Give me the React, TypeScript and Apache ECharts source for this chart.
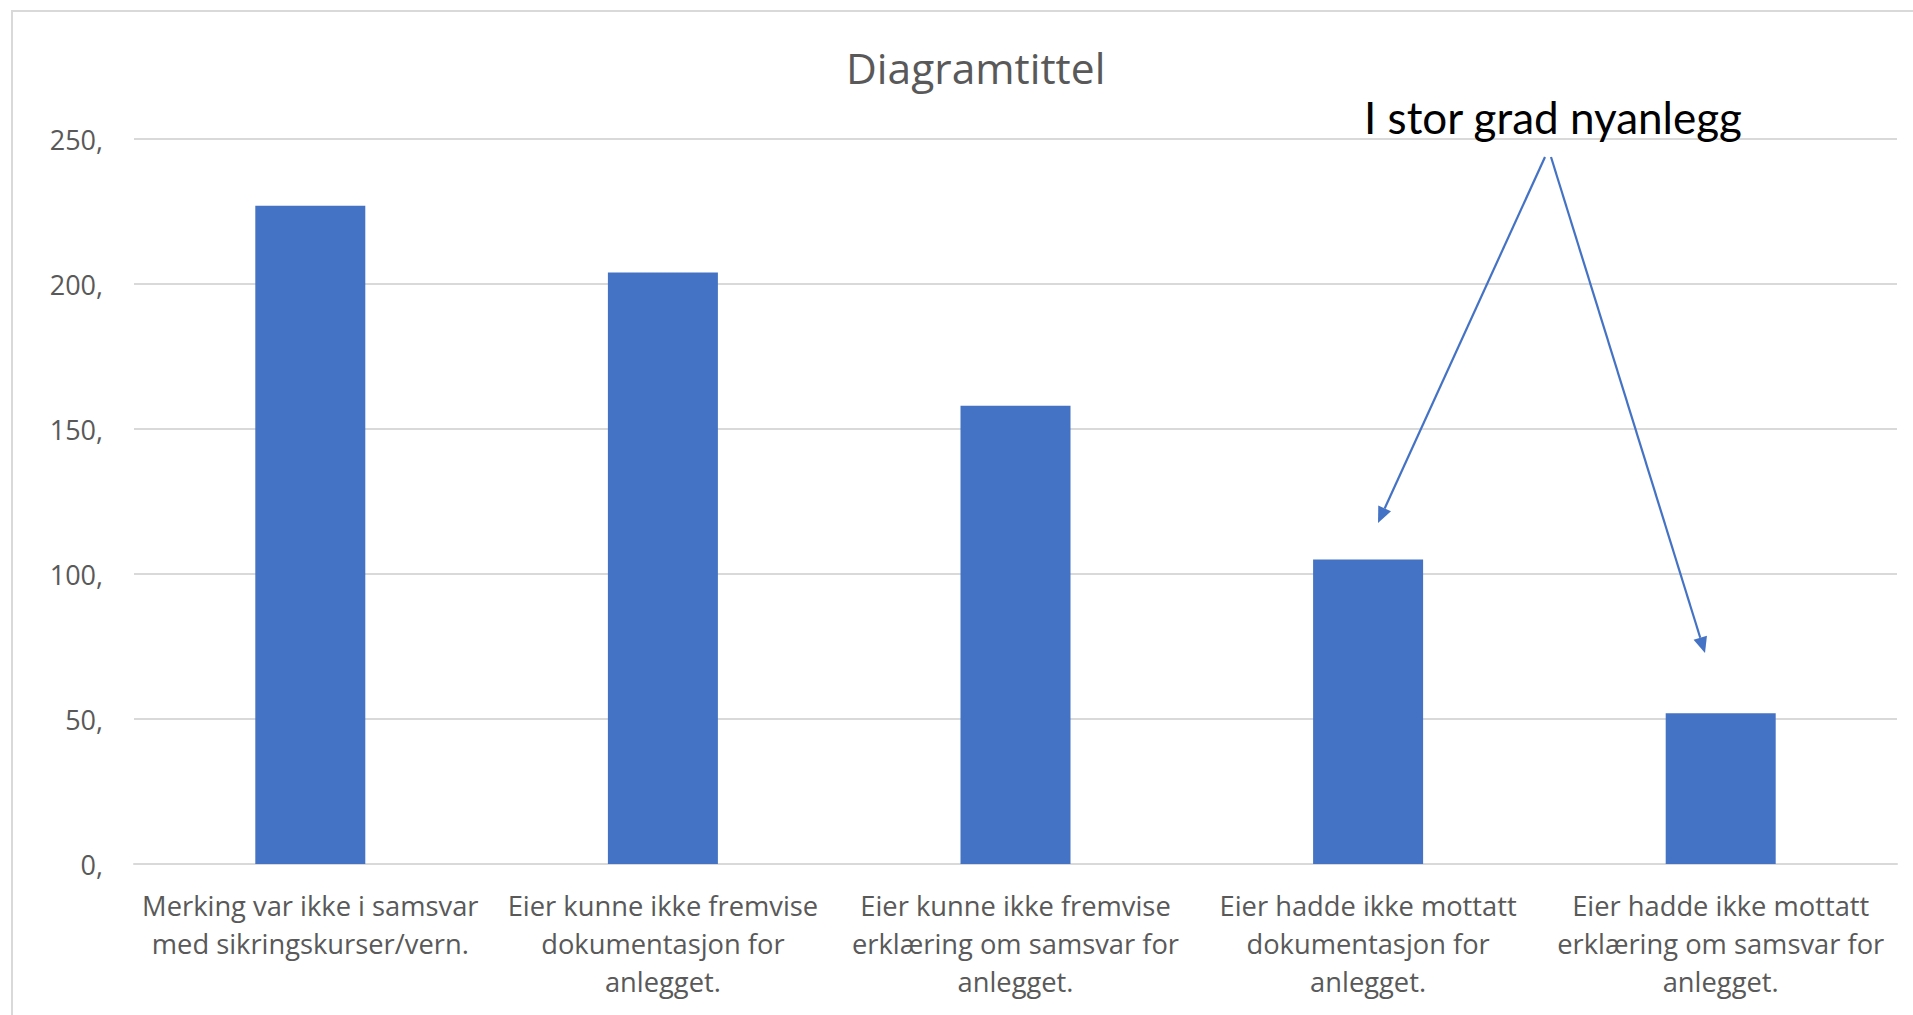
import React, { useEffect, useRef } from "react";
import * as echarts from "echarts";

const categories: string[] = [
  "Merking var ikke i samsvar\nmed sikringskurser/vern.",
  "Eier kunne ikke fremvise\ndokumentasjon for\nanlegget.",
  "Eier kunne ikke fremvise\nerklæring om samsvar for\nanlegget.",
  "Eier hadde ikke mottatt\ndokumentasjon for\nanlegget.",
  "Eier hadde ikke mottatt\nerklæring om samsvar for\nanlegget.",
];
const values: number[] = [227, 204, 158, 105, 52];
const yTicks = { min: 0, max: 250, interval: 50 };
const titleText = "Diagramtittel";
const annotationText = "I stor grad nyanlegg";

const BLUE = "#4472C4";
const GRID = "#d9d9d9";
const TEXT = "#595959";
const FONT = "'Open Sans', 'Noto Sans', sans-serif";

function arrowHead(x1: number, y1: number, x2: number, y2: number, len: number, half: number) {
  const dx = x2 - x1;
  const dy = y2 - y1;
  const d = Math.sqrt(dx * dx + dy * dy);
  const ux = dx / d;
  const uy = dy / d;
  const bx = x2 - ux * len;
  const by = y2 - uy * len;
  return [
    [x2, y2],
    [bx - uy * half, by + ux * half],
    [bx + uy * half, by - ux * half],
  ];
}

export default function App() {
  const ref = useRef<HTMLDivElement>(null);
  useEffect(() => {
    if (!ref.current) return;
    const chart = echarts.init(ref.current, null, { renderer: "svg" });
    const arrows = [
      [1545, 157, 1378, 523],
      [1551, 157, 1705, 653],
    ];
    const graphics: any[] = [
      {
        type: "rect",
        shape: { x: 12, y: 11, width: 1950, height: 1050 },
        style: { fill: "none", stroke: GRID, lineWidth: 2 },
        silent: true,
        z: -10,
      },
      {
        type: "text",
        x: 1364,
        y: 95,
        style: {
          text: annotationText,
          fill: "#000000",
          font: "44px Lato, 'Liberation Sans', sans-serif",
        },
        z: 10,
      },
    ];
    arrows.forEach(([x1, y1, x2, y2]) => {
      const head = arrowHead(x1, y1, x2, y2, 16, 7);
      const bx = (head[1][0] + head[2][0]) / 2;
      const by = (head[1][1] + head[2][1]) / 2;
      graphics.push({
        type: "line",
        shape: { x1, y1, x2: bx, y2: by },
        style: { stroke: BLUE, lineWidth: 2.2 },
        z: 10,
      });
      graphics.push({
        type: "polygon",
        shape: { points: head },
        style: { fill: BLUE },
        z: 10,
      });
    });

    chart.setOption({
      animation: false,
      backgroundColor: "#ffffff",
      title: {
        text: titleText,
        left: 841,
        top: 41,
        textStyle: { fontFamily: FONT, fontSize: 42.5, fontWeight: "normal", color: TEXT },
      },
      grid: { left: 134, right: 16, top: 139, bottom: 151, containLabel: false },
      xAxis: {
        type: "category",
        data: categories,
        axisLine: { show: true, lineStyle: { color: GRID, width: 2 } },
        axisTick: { show: false },
        axisLabel: {
          interval: 0,
          margin: 22,
          fontFamily: FONT,
          fontSize: 27.3,
          lineHeight: 38,
          color: TEXT,
          align: "center",
        },
      },
      yAxis: {
        type: "value",
        min: yTicks.min,
        max: yTicks.max,
        interval: yTicks.interval,
        axisLine: { show: false },
        axisTick: { show: false },
        splitLine: { lineStyle: { color: GRID, width: 2 } },
        axisLabel: {
          margin: 31,
          fontFamily: FONT,
          fontSize: 27,
          color: TEXT,
          formatter: (v: number) => `${v},`,
        },
      },
      series: [
        {
          type: "bar",
          data: values,
          barWidth: 110,
          itemStyle: { color: BLUE },
        },
      ],
      graphic: graphics,
    });
    return () => chart.dispose();
  }, []);
  return (
    <div
      ref={ref}
      style={{ position: "fixed", left: 0, top: 0, width: 1913, height: 1015 }}
    />
  );
}
